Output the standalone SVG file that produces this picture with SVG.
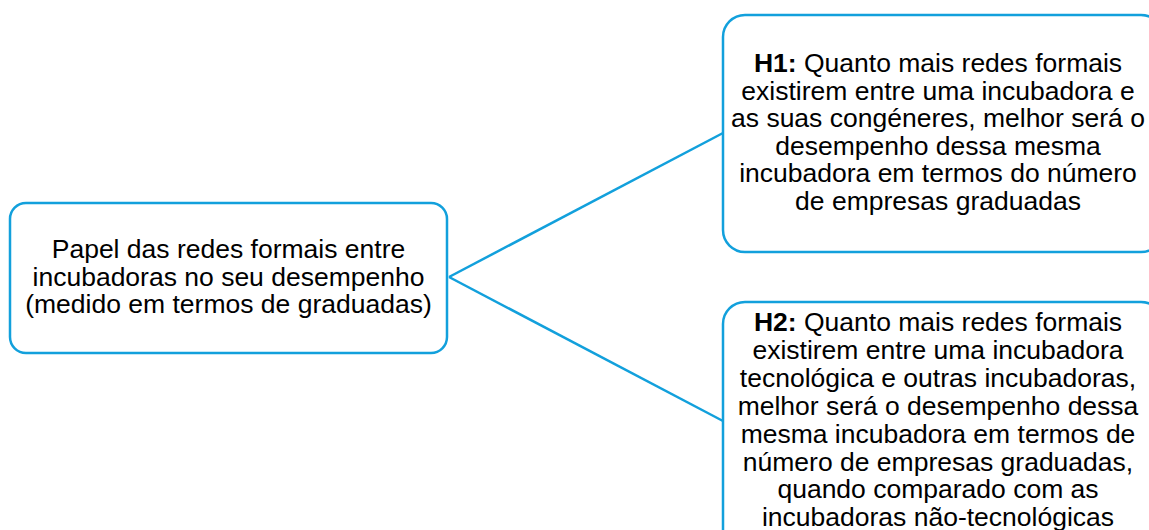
<svg xmlns="http://www.w3.org/2000/svg" width="1149" height="530" viewBox="0 0 1149 530">
<style>
.box{fill:#ffffff;stroke:#12A0DC;stroke-width:2.5}
.edge{stroke:#12A0DC;stroke-width:2.5;fill:none}
text{font-family:"Liberation Sans",Arial,sans-serif;font-size:26.5px;fill:#000000;text-anchor:middle}
.b{font-weight:bold}
</style>
<rect width="1149" height="530" fill="#ffffff"/>
<g id="connectors">
<line class="edge" x1="449" y1="277" x2="723" y2="133"/>
<line class="edge" x1="449" y1="277" x2="723" y2="421"/>
</g>
<g id="root">
<rect class="box" x="10" y="203" width="437" height="150" rx="16" ry="16"/>
<text x="228.5" y="258">Papel das redes formais entre</text>
<text x="228.5" y="285.5">incubadoras no seu desempenho</text>
<text x="228.5" y="313">(medido em termos de graduadas)</text>
</g>
<g id="h1">
<rect class="box" x="723" y="15" width="440" height="237" rx="22" ry="22"/>
<text x="938" y="72"><tspan class="b">H1:</tspan> Quanto mais redes formais</text>
<text x="938" y="99.5">existirem entre uma incubadora e</text>
<text x="938" y="127">as suas congéneres, melhor será o</text>
<text x="938" y="154.5">desempenho dessa mesma</text>
<text x="938" y="182">incubadora em termos do número</text>
<text x="938" y="209.5">de empresas graduadas</text>
</g>
<g id="h2">
<rect class="box" x="723" y="302" width="440" height="260" rx="22" ry="22"/>
<text x="938" y="331"><tspan class="b">H2:</tspan> Quanto mais redes formais</text>
<text x="938" y="359">existirem entre uma incubadora</text>
<text x="938" y="387">tecnológica e outras incubadoras,</text>
<text x="938" y="415">melhor será o desempenho dessa</text>
<text x="938" y="443">mesma incubadora em termos de</text>
<text x="938" y="470.5">número de empresas graduadas,</text>
<text x="938" y="498">quando comparado com as</text>
<text x="938" y="525.5">incubadoras não-tecnológicas</text>
</g>
</svg>
